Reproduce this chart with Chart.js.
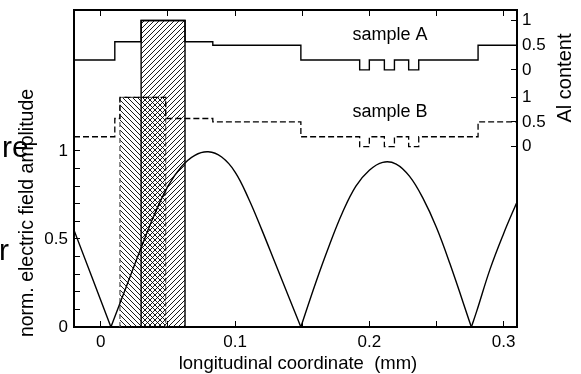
<!DOCTYPE html>
<html>
<head>
<meta charset="utf-8">
<script src="https://cdn.jsdelivr.net/npm/chart.js@4.4.1/dist/chart.umd.min.js"></script>
<style>
  html, body { margin: 0; padding: 0; background: #fff; }
  #wrap { width: 581px; height: 374px; position: relative; }
</style>
</head>
<body>
<div id="wrap"><canvas id="chart"></canvas></div>
<script>
// normalized field amplitude along the device (x in mm)
const fieldPos = [-0.02, 0.0075, 0.02, 0.03, 0.04, 0.05, 0.06, 0.07, 0.08, 0.09, 0.10, 0.11, 0.12, 0.13, 0.14, 0.149,
  0.16, 0.17, 0.18, 0.19, 0.20, 0.21, 0.22, 0.23, 0.24, 0.25, 0.26, 0.276, 0.28, 0.29, 0.30, 0.31];
const fieldAmp = [0.55, 0, 0.25, 0.45, 0.64, 0.80, 0.91, 0.975, 0.995, 0.965, 0.88, 0.73, 0.55, 0.36, 0.17, 0,
  0.25, 0.46, 0.65, 0.80, 0.89, 0.935, 0.925, 0.855, 0.73, 0.565, 0.36, 0, 0.09, 0.33, 0.53, 0.71];

// Al content profiles: each value holds from its x to the next x
const stepPosA = [-0.02, 0.0104, 0.030, 0.0627, 0.0834, 0.149, 0.1928, 0.2, 0.2112, 0.2187, 0.2293, 0.2368, 0.281, 0.31];
const alSampleA = [0.2, 0.57, 1, 0.57, 0.5, 0.2, 0, 0.2, 0, 0.2, 0, 0.2, 0.5, 0.5];
const stepPosB = [-0.02, 0.0104, 0.0142, 0.0483, 0.0834, 0.149, 0.1928, 0.2, 0.2112, 0.2187, 0.2293, 0.2368, 0.281, 0.31];
const alSampleB = [0.2, 0.57, 1, 0.57, 0.5, 0.2, 0, 0.2, 0, 0.2, 0, 0.2, 0.5, 0.5];

// hatched Al = 1 layers [from, to] in mm
const layerA = [0.030, 0.0627];
const layerB = [0.0142, 0.0483];

// tick labels
const xTickLabels = [0, 0.1, 0.2, 0.3];
const yTickLabels = [0, 0.5, 1];
const alTickLabels = [0, 0.5, 1];

// where the two Al scales sit on the field axis
const ZERO_A = 1.46, ZERO_B = 1.0244, AL_UNIT = 0.28, Y_MAX = 1.8;
const A_MIN = -ZERO_A / AL_UNIT, A_MAX = (Y_MAX - ZERO_A) / AL_UNIT;
const B_MIN = -ZERO_B / AL_UNIT, B_MAX = (Y_MAX - ZERO_B) / AL_UNIT;

const FONT = '"Liberation Sans", Arial, Helvetica, sans-serif';

function hatch(ctx, dir) {
  const s = 5;
  const c = document.createElement('canvas');
  c.width = c.height = s;
  const g = c.getContext('2d');
  g.strokeStyle = '#000';
  g.lineWidth = 0.9;
  g.beginPath();
  if (dir > 0) {
    g.moveTo(0, s); g.lineTo(s, 0);
    g.moveTo(-1, 1); g.lineTo(1, -1);
    g.moveTo(s - 1, s + 1); g.lineTo(s + 1, s - 1);
  } else {
    g.moveTo(0, 0); g.lineTo(s, s);
    g.moveTo(-1, s - 1); g.lineTo(1, s + 1);
    g.moveTo(s - 1, -1); g.lineTo(s + 1, 1);
  }
  g.stroke();
  return ctx.createPattern(c, 'repeat');
}

// split the field curve at its zeros so each lobe keeps a sharp node
function fieldSegments() {
  const segs = [];
  let cur = [];
  fieldPos.forEach((x, i) => {
    cur.push({ x, y: fieldAmp[i] });
    if (fieldAmp[i] === 0 && cur.length > 1) {
      segs.push(cur);
      cur = [{ x, y: 0 }];
    }
  });
  if (cur.length > 1) segs.push(cur);
  return segs;
}

const canvas = document.getElementById('chart');
canvas.width = 581;
canvas.height = 374;
const ctx = canvas.getContext('2d');

const layerRect = (range, bottom) => [
  { x: range[0], y: bottom }, { x: range[0], y: 1 }, { x: range[1], y: 1 }, { x: range[1], y: bottom },
];

const datasets = [];
fieldSegments().forEach((seg) => {
  datasets.push({
    data: seg, yAxisID: 'y', borderColor: '#000', borderWidth: 1.4,
    pointRadius: 0, tension: 0.4, fill: false,
  });
});
datasets.push({
  data: stepPosA.map((x, i) => ({ x, y: alSampleA[i] })), yAxisID: 'yA',
  stepped: 'before', borderColor: '#000', borderWidth: 1.4, pointRadius: 0, fill: false,
});
datasets.push({
  data: stepPosB.map((x, i) => ({ x, y: alSampleB[i] })), yAxisID: 'yB',
  stepped: 'before', borderColor: '#000', borderWidth: 1.3, borderDash: [6, 3], pointRadius: 0, fill: false,
});
datasets.push({
  data: layerRect(layerA, A_MIN), yAxisID: 'yA', borderColor: '#000', borderWidth: 1.4,
  pointRadius: 0, tension: 0, fill: 'start', backgroundColor: hatch(ctx, 1),
});
datasets.push({
  data: layerRect(layerB, B_MIN), yAxisID: 'yB', borderColor: '#555', borderWidth: 1.2, borderDash: [5, 3],
  pointRadius: 0, tension: 0, fill: 'start', backgroundColor: hatch(ctx, -1),
});

const textPlugin = {
  id: 'texts',
  afterDraw(chart) {
    const c = chart.ctx;
    c.save();
    c.fillStyle = '#000';
    c.textBaseline = 'alphabetic';

    c.font = '18px ' + FONT;
    c.textAlign = 'left';
    c.fillText('sample A', 352.5, 40);
    c.fillText('sample B', 352.5, 116.5);

    c.font = '18.5px ' + FONT;
    c.textAlign = 'center';
    c.fillText('longitudinal coordinate  (mm)', 298, 369);

    c.save();
    c.translate(33, 213);
    c.rotate(-Math.PI / 2);
    c.font = '19.5px ' + FONT;
    c.fillText('norm. electric field amplitude', 0, 0);
    c.restore();

    c.save();
    c.translate(571, 78);
    c.rotate(-Math.PI / 2);
    c.font = '20px ' + FONT;
    c.fillText('Al content', 0, 0);
    c.restore();

    // stray fragments at the left edge
    c.font = '30px ' + FONT;
    c.textAlign = 'left';
    c.fillText('re', 2, 157);
    c.fillText('r', -1, 260);
    c.restore();
  },
};

const tickFont = { family: FONT, size: 17 };
const noPad = (s) => { s.paddingTop = 0; s.paddingBottom = 0; s.paddingLeft = 0; s.paddingRight = 0; };

new Chart(ctx, {
  type: 'line',
  data: { datasets },
  plugins: [textPlugin],
  options: {
    responsive: false,
    animation: false,
    events: [],
    layout: { padding: 0 },
    plugins: { legend: { display: false }, tooltip: { enabled: false } },
    scales: {
      x: {
        type: 'linear', position: 'bottom', min: -0.02, max: 0.31,
        afterBuildTicks: (s) => {
          s.ticks = [0, 0.05, 0.1, 0.15, 0.2, 0.25, 0.3].map((v) => ({ value: v }));
        },
        afterFit: (s) => { s.height = 47; noPad(s); },
        ticks: {
          color: '#000', font: tickFont, padding: 11, maxRotation: 0, autoSkip: false,
          callback: (v) => (xTickLabels.some((t) => Math.abs(t - v) < 1e-9) ? String(+v.toFixed(2)) : ''),
        },
        grid: { drawOnChartArea: false, tickLength: -6, color: '#000', tickWidth: 1 },
        border: { color: '#000', width: 2 },
      },
      x2: {
        type: 'linear', position: 'top', min: -0.02, max: 0.31,
        afterBuildTicks: (s) => {
          s.ticks = [0, 0.05, 0.1, 0.15, 0.2, 0.25, 0.3].map((v) => ({ value: v }));
        },
        afterFit: (s) => { s.height = 10; noPad(s); },
        ticks: { display: false },
        grid: { drawOnChartArea: false, tickLength: -6, color: '#000', tickWidth: 1 },
        border: { color: '#000', width: 2 },
      },
      y: {
        type: 'linear', position: 'left', min: 0, max: Y_MAX,
        afterBuildTicks: (s) => {
          const t = [];
          for (let i = 0; i <= 10; i++) t.push({ value: i / 10 });
          s.ticks = t;
        },
        afterFit: (s) => { s.width = 74; noPad(s); },
        ticks: {
          color: '#000', font: tickFont, padding: 12, autoSkip: false,
          callback: (v) => (yTickLabels.some((t) => Math.abs(t - v) < 1e-9) ? String(+v.toFixed(1)) : ''),
        },
        grid: { drawOnChartArea: false, tickLength: -6, color: '#000', tickWidth: 1 },
        border: { color: '#000', width: 2 },
      },
      yR: {
        type: 'linear', position: 'right', min: 0, max: Y_MAX,
        afterBuildTicks: (s) => {
          const t = [];
          [ZERO_B, ZERO_A].forEach((z) => alTickLabels.forEach((a) => t.push({ value: z + a * AL_UNIT })));
          s.ticks = t;
        },
        afterFit: (s) => { s.width = 64; noPad(s); },
        ticks: {
          color: '#000', font: tickFont, padding: 11, autoSkip: false,
          callback: (v, i) => String(alTickLabels[i % alTickLabels.length]),
        },
        grid: { drawOnChartArea: false, tickLength: -6, color: '#000', tickWidth: 1 },
        border: { color: '#000', width: 2 },
      },
      yA: { type: 'linear', display: false, min: A_MIN, max: A_MAX },
      yB: { type: 'linear', display: false, min: B_MIN, max: B_MAX },
    },
  },
});
</script>
</body>
</html>
